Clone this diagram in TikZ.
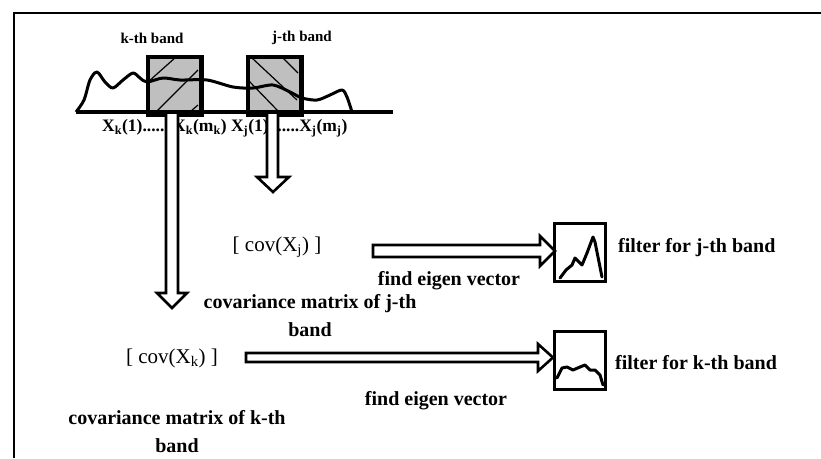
\documentclass[tikz,border=0pt]{standalone}
\usepackage{fontspec}
\setmainfont{Liberation Serif}
\begin{document}
\begin{tikzpicture}[x=1pt,y=-1pt,
  lbl/.style={font=\fontsize{20}{24}\selectfont\bfseries, inner sep=0pt},
  covlbl/.style={font=\fontsize{21}{24}\selectfont, inner sep=0pt},
  bandlbl/.style={font=\fontsize{15}{18}\selectfont\bfseries, inner sep=0pt},
  axlbl/.style={font=\fontsize{17.5}{20}\selectfont\bfseries, inner sep=0pt},
  twoline/.style={lbl, align=center, font=\fontsize{20}{28}\selectfont\bfseries},
  bandbox/.style={draw, line width=3pt, fill=black!25},
  hatch/.style={line width=1.2pt},
  hollowarrow/.style={draw, line width=2.6pt, fill=white, line join=miter},
  filterbox/.style={draw, line width=3pt, fill=white, minimum width=51pt, minimum height=58pt, inner sep=0pt},
  curve/.style={line width=3pt, line join=round, line cap=round}
]
\useasboundingbox (0,0) rectangle (821,458);
% frame
\draw[line width=2pt] (14,458) -- (14,13) -- (821,13);

% band boxes
\node[bandbox, minimum width=52pt, minimum height=56pt, inner sep=0pt, anchor=north west] (kbox) at (147,56) {};
\node[bandbox, minimum width=52pt, minimum height=56pt, inner sep=0pt, anchor=north west] (jbox) at (247,56) {};
\draw[hatch] (148,82) -- (176,57);
\draw[hatch] (157,111) -- (198,70);
\draw[hatch] (191,111) -- (198,105);
\draw[hatch] (252,58) -- (297,100);
\draw[hatch] (283,58) -- (298,73);
\draw[hatch] (248,80) -- (278,111);

% signal
\draw[line width=3pt, line join=round] plot[smooth, tension=0.5] coordinates {
 (76,112) (84,100) (90,80) (97,72) (105,82) (113,88) (123,80) (133,73) (140,78) (147,82)
 (163,78) (180,80) (207,80) (233,87) (253,88) (273,85) (290,92) (302,98) (317,100)
 (330,95) (342,90) (347,97) (352,112)};
\draw[bandbox, fill=none] (kbox.north west) rectangle (kbox.south east);
\draw[bandbox, fill=none] (jbox.north west) rectangle (jbox.south east);

% axis
\coordinate (axL) at (76,112);
\coordinate (axR) at (393,112);
\draw[line width=3.5pt] (axL) -- (axR);

% labels above
\node[bandlbl] (klab) at (152,38) {k-th band};
\node[bandlbl] (jlab) at (302,38) {j-th band};

% axis sample labels
\node[axlbl, anchor=west] (xlab) at (102,128)
 {X\textsubscript{k}(1).......X\textsubscript{k}(m\textsubscript{k}) X\textsubscript{j}(1).......X\textsubscript{j}(m\textsubscript{j})};

% vertical hollow arrows
\draw[hollowarrow] (166,114) -- (166,293) -- (157,293) -- (172,308) -- (187,293) -- (178,293) -- (178,114);
\draw[hollowarrow] (267,114) -- (267,177) -- (257,177) -- (273,192) -- (289,177) -- (278,177) -- (278,114);

% texts
\node[covlbl] (covj) at (277,247) {[ cov(X\textsubscript{j}) ]};
\node[covlbl] (covk) at (172,358) {[ cov(X\textsubscript{k}) ]};
\node[lbl] (eigj) at (449,281) {find eigen vector};
\node[lbl] (eigk) at (436,401) {find eigen vector};
\node[twoline] (cmj) at (310,316) {covariance matrix of j-th\\band};
\node[twoline] (cmk) at (177,432) {covariance matrix of k-th\\band};

% filter boxes
\node[filterbox, anchor=north west] (fj) at (553,222) {};
\node[filterbox, anchor=north west] (fk) at (553,330) {};
\node[lbl, anchor=west] (fjlab) at (618,248) {filter for j-th band};
\node[lbl, anchor=west] (fklab) at (615,363) {filter for k-th band};

\draw[curve] (560,278) -- (566,270) -- (572,265) -- (575,258) -- (582,265) -- (587,253) -- (590,245) -- (593,237) -- (595,242) -- (602,277);
\draw[curve] (557,378) -- (562,368) -- (567,367) -- (573,370) -- (580,367) -- (585,365) -- (590,370) -- (595,370) -- (600,375) -- (603,385);

% horizontal hollow arrows
\draw[hollowarrow] (373,245) -- (540,245) -- (540,236) -- (555,251) -- (540,266) -- (540,257) -- (373,257) -- cycle;
\draw[hollowarrow] (246,353) -- (538,353) -- (538,344) -- (553,357.5) -- (538,371) -- (538,362) -- (246,362) -- cycle;
\end{tikzpicture}
\end{document}
